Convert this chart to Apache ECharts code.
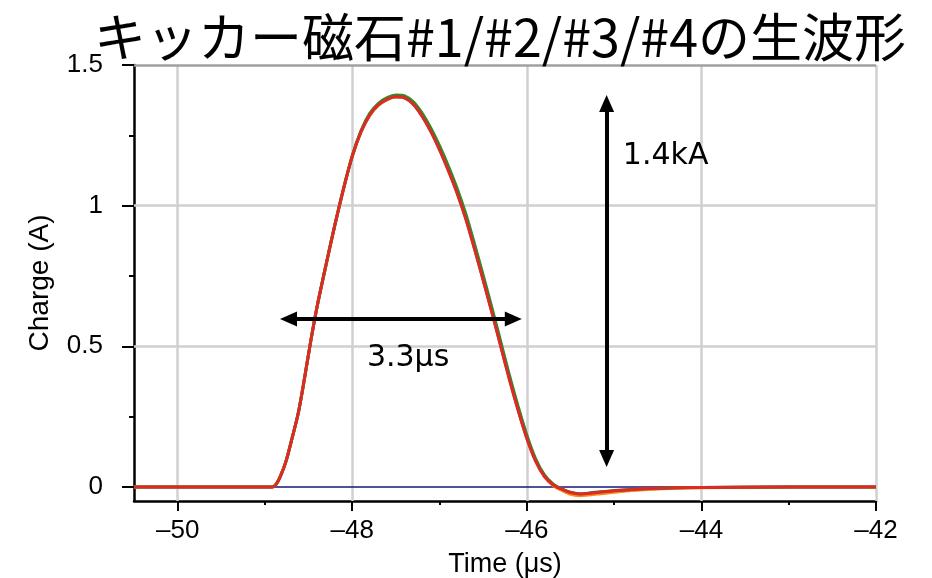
<!DOCTYPE html>
<html><head><meta charset="utf-8">
<script src="https://cdn.jsdelivr.net/npm/echarts@6/dist/echarts.min.js"></script>
<style>html,body{margin:0;padding:0;background:#fff}#c{width:932px;height:578px}</style>
</head><body><div id="c"></div>
<script>
const titleText = 'キッカー磁石#1/#2/#3/#4の生波形';
const xName = 'Time (μs)';
const yName = 'Charge (A)';
const xTicks = [-50, -48, -46, -44, -42];
const xMinorTicks = [-49, -47, -45, -43];
const yTicks = [0, 0.5, 1, 1.5];
const yMinorTicks = [0.25, 0.75, 1.25];
const yGrid = [0.5, 1];
const yTop = 1.5;

const time = [-50.5, -49.5, -49.0, -48.92, -48.87, -48.82, -48.76, -48.70, -48.62, -48.55,
  -48.48, -48.40, -48.30, -48.20, -48.10, -48.00, -47.90, -47.80, -47.70, -47.60,
  -47.50, -47.40, -47.30, -47.20, -47.10, -47.00, -46.90, -46.80, -46.70, -46.60,
  -46.50, -46.40, -46.30, -46.20, -46.10, -46.00, -45.90, -45.80, -45.70, -45.60,
  -45.50, -45.40, -45.30, -45.15, -45.00, -44.80, -44.60, -44.30, -44.00, -43.00, -42.00];
const blue = [0, 0, 0, 0, 0.01, 0.04, 0.09, 0.16, 0.26, 0.38,
  0.51, 0.645, 0.79, 0.93, 1.06, 1.175, 1.262, 1.322, 1.358, 1.378,
  1.387, 1.383, 1.361, 1.319, 1.265, 1.200, 1.127, 1.048, 0.956, 0.849,
  0.737, 0.622, 0.504, 0.385, 0.275, 0.175, 0.094, 0.039, 0.007, -0.010,
  -0.024, -0.029, -0.027, -0.022, -0.017, -0.011, -0.007, -0.004, -0.002, 0, 0];
const orange = [0, 0, 0, 0, 0.01, 0.04, 0.09, 0.16, 0.26, 0.38,
  0.51, 0.645, 0.79, 0.93, 1.06, 1.175, 1.262, 1.321, 1.357, 1.377,
  1.386, 1.383, 1.362, 1.321, 1.267, 1.203, 1.130, 1.051, 0.960, 0.853,
  0.741, 0.626, 0.508, 0.389, 0.278, 0.177, 0.095, 0.038, 0.005, -0.012,
  -0.026, -0.031, -0.029, -0.024, -0.019, -0.013, -0.009, -0.005, -0.003, 0, 0];
const green = [0, 0, 0, 0, 0.01, 0.04, 0.09, 0.16, 0.26, 0.38,
  0.51, 0.645, 0.79, 0.93, 1.06, 1.177, 1.266, 1.328, 1.364, 1.384,
  1.393, 1.390, 1.369, 1.329, 1.276, 1.213, 1.142, 1.063, 0.972, 0.865,
  0.753, 0.637, 0.518, 0.398, 0.287, 0.185, 0.101, 0.044, 0.011, -0.007,
  -0.019, -0.024, -0.022, -0.017, -0.013, -0.009, -0.006, -0.003, -0.002, 0, 0];
const red = [0, 0, 0, 0, 0.01, 0.04, 0.09, 0.16, 0.26, 0.38,
  0.51, 0.645, 0.79, 0.93, 1.06, 1.175, 1.262, 1.322, 1.358, 1.378,
  1.387, 1.383, 1.360, 1.318, 1.263, 1.198, 1.125, 1.045, 0.953, 0.846,
  0.734, 0.619, 0.501, 0.382, 0.272, 0.172, 0.092, 0.038, 0.008, -0.008,
  -0.020, -0.025, -0.023, -0.018, -0.014, -0.009, -0.006, -0.003, -0.002, 0, 0];
const zeroLine = [[-50.5, 0], [-42, 0]];

const widthArrow = [[-48.73, 0.597], [-46.155, 0.597]];
const heightArrow = [[-45.086, 1.363], [-45.086, 0.101]];
const widthLabel = {text: '3.3μs', t: -47.36, v: 0.458};
const heightLabel = {text: '1.4kA', t: -44.90, v: 1.175};

const XMIN = -50.5, XMAX = -42, YMIN = -0.05, YMAX = 1.5;
const pair = arr => time.map((t, i) => [t, arr[i]]);
const black = '#000';
const labelFont = 'Liberation Sans';

const chart = echarts.init(document.getElementById('c'), null, {renderer: 'canvas'});
const curve = (name, arr, color, w) => ({
  name, type: 'line', data: pair(arr), showSymbol: false, symbol: 'none', smooth: 0.25,
  lineStyle: {color, width: w}, itemStyle: {color}, animation: false, silent: true
});
const option = {
  animation: false,
  backgroundColor: '#fff',
  title: {
    text: titleText, left: 89, top: 6,
    textStyle: {fontFamily: 'Noto Sans CJK JP', fontSize: 52, fontWeight: 'normal', color: black}
  },
  grid: {left: 134, right: 56, top: 65, bottom: 77, outerBoundsMode: 'none', containLabel: false},
  xAxis: [{
    type: 'value', min: XMIN, max: XMAX,
    name: xName, nameLocation: 'middle', nameGap: 50,
    nameTextStyle: {fontFamily: labelFont, fontSize: 27, color: black},
    axisLine: {onZero: false, lineStyle: {color: black, width: 2.5}},
    axisTick: {customValues: xTicks, length: 10, lineStyle: {color: black, width: 2}},
    axisLabel: {customValues: xTicks, fontFamily: labelFont, fontSize: 26, color: black, margin: 17,
      formatter: v => String(v).replace('-', '–')},
    splitLine: {show: false}
  }, {
    type: 'value', min: XMIN, max: XMAX, position: 'bottom', offset: 0,
    axisLine: {show: false, onZero: false},
    axisTick: {customValues: xMinorTicks, length: 4, lineStyle: {color: black, width: 2}},
    axisLabel: {show: false}, splitLine: {show: false}
  }],
  yAxis: [{
    type: 'value', min: YMIN, max: YMAX,
    name: yName, nameLocation: 'middle', nameGap: 80, nameRotate: 90,
    nameTextStyle: {fontFamily: labelFont, fontSize: 28, color: black},
    axisLine: {onZero: false, lineStyle: {color: black, width: 2.5}},
    axisTick: {customValues: yTicks, length: 12, lineStyle: {color: black, width: 2}},
    axisLabel: {customValues: yTicks, fontFamily: labelFont, fontSize: 26, color: black, margin: 31},
    splitLine: {show: false}
  }, {
    type: 'value', min: YMIN, max: YMAX, position: 'left', offset: 0,
    axisLine: {show: false, onZero: false},
    axisTick: {customValues: yMinorTicks, length: 5, lineStyle: {color: black, width: 2}},
    axisLabel: {show: false}, splitLine: {show: false}
  }],
  series: [
    {
      name: 'grid', type: 'line', data: [], silent: true,
      markLine: {
        silent: true, symbol: 'none', z: 1, animation: false,
        label: {show: false},
        lineStyle: {color: '#d0d0d0', width: 2.5, type: 'solid'},
        data: xTicks.map(x => ({xAxis: x}))
          .concat(yGrid.map(y => ({yAxis: y})))
          .concat([{yAxis: yTop, lineStyle: {color: '#a0a0a0', width: 2.5}}])
      }
    },
    {
      name: 'zero', type: 'line', data: zeroLine, showSymbol: false, symbol: 'none', silent: true,
      lineStyle: {color: '#14147a', width: 1.6}
    },
    curve('#1', blue, '#1f6fc0', 3),
    curve('#2', orange, '#ff8c1a', 3),
    curve('#3', green, '#2e8b2e', 3),
    curve('#4', red, '#dd2a22', 3),
    {
      name: 'annot', type: 'line', data: [], silent: true,
      markLine: {
        silent: true, z: 6, animation: false,
        symbol: ['triangle', 'triangle'], symbolSize: [15, 17],
        label: {show: false},
        lineStyle: {color: black, width: 4, type: 'solid'},
        itemStyle: {color: black},
        data: [
          [{coord: widthArrow[0]}, {coord: widthArrow[1]}],
          [{coord: heightArrow[0]}, {coord: heightArrow[1]}]
        ]
      },
      markPoint: {
        silent: true, symbol: 'circle', symbolSize: 0, animation: false,
        label: {show: true, color: black, fontFamily: 'DejaVu Sans', fontSize: 30},
        data: [
          {coord: [widthLabel.t, widthLabel.v], label: {formatter: widthLabel.text, position: 'inside'}},
          {coord: [heightLabel.t, heightLabel.v], label: {formatter: heightLabel.text, position: 'right', distance: 0}}
        ]
      }
    }
  ]
};
chart.setOption(option);
</script>
</body></html>
